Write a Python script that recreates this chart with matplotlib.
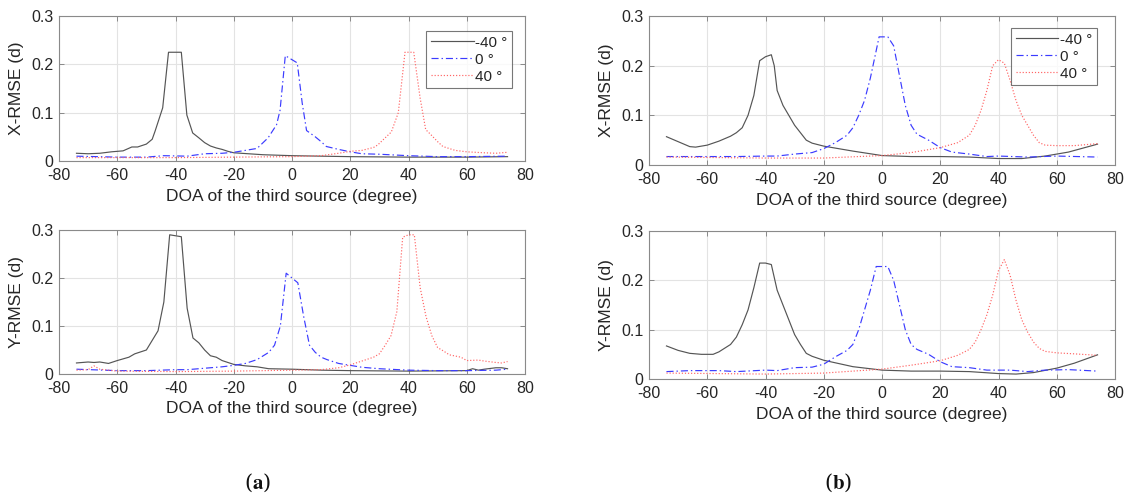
import matplotlib
matplotlib.use("Agg")
import matplotlib.pyplot as plt

plt.rcParams["font.family"] = ["Liberation Sans", "DejaVu Sans"]
plt.rcParams["mathtext.fontset"] = "stix"
plt.rcParams["axes.unicode_minus"] = False

# ---------------- data ----------------
series_labels = ["-40 °", "0 °", "40 °"]
x_ticks = [-80, -60, -40, -20, 0, 20, 40, 60, 80]
y_ticks = [0, 0.1, 0.2, 0.3]
y_tick_labels = ["0", "0.1", "0.2", "0.3"]
x_label = "DOA of the third source (degree)"
panel_tags = ["a", "b"]

# (a) X-RMSE
a_x_m40 = [-74, -70, -66, -62, -58, -55, -53, -50, -48, -47, -44.4, -42.4, -38, -36.1, -34.1, -32, -30, -28, -26, -24, -22, -20, -10, 0, 10, 20, 40, 60, 74]
a_x_m40_y = [0.016, 0.015, 0.016, 0.019, 0.021, 0.029, 0.029, 0.035, 0.045, 0.062, 0.11, 0.225, 0.225, 0.095, 0.058, 0.048, 0.038, 0.031, 0.027, 0.024, 0.020, 0.017, 0.013, 0.011, 0.010, 0.009, 0.008, 0.008, 0.009]
a_x_0 = [-74, -60, -50, -44, -36, -30, -24, -20, -16, -12, -8.2, -5.3, -4.1, -2.3, 1.8, 3.5, 5, 8, 10, 11.8, 16, 20, 24, 30, 40, 50, 60, 74]
a_x_0_y = [0.010, 0.008, 0.008, 0.011, 0.010, 0.015, 0.016, 0.018, 0.022, 0.026, 0.048, 0.075, 0.105, 0.218, 0.203, 0.12, 0.063, 0.05, 0.04, 0.03, 0.024, 0.019, 0.015, 0.014, 0.011, 0.009, 0.009, 0.010]
a_x_40 = [-74, -40, 0, 10, 16, 20, 24, 28, 29.4, 32, 34.1, 36.5, 38.8, 41.8, 44, 45.9, 47.6, 50, 51.8, 56, 60, 66, 70, 74]
a_x_40_y = [0.007, 0.007, 0.009, 0.011, 0.016, 0.020, 0.022, 0.028, 0.033, 0.048, 0.060, 0.100, 0.225, 0.225, 0.130, 0.065, 0.055, 0.040, 0.030, 0.022, 0.019, 0.017, 0.016, 0.018]

# (a) Y-RMSE
a_y_m40 = [-74, -70, -68, -66, -63, -60, -56, -54, -50, -48, -46, -44, -42, -38, -36, -34, -32, -30, -28, -26, -24, -20, -16, -12, -8, 0, 10, 20, 40, 60, 62, 64, 66, 70, 72, 74]
a_y_m40_y = [0.023, 0.025, 0.024, 0.025, 0.022, 0.028, 0.035, 0.042, 0.050, 0.070, 0.090, 0.150, 0.290, 0.286, 0.137, 0.075, 0.065, 0.050, 0.038, 0.035, 0.028, 0.020, 0.017, 0.015, 0.011, 0.010, 0.008, 0.007, 0.006, 0.007, 0.011, 0.008, 0.010, 0.013, 0.013, 0.011]
a_y_0 = [-74, -60, -50, -40, -36, -30, -24, -20, -16, -12, -8, -6, -4, -2, 2, 4, 6, 8, 10, 12, 16, 20, 24, 30, 40, 50, 60, 70, 74]
a_y_0_y = [0.010, 0.007, 0.007, 0.009, 0.009, 0.012, 0.015, 0.018, 0.022, 0.030, 0.045, 0.060, 0.100, 0.210, 0.190, 0.120, 0.060, 0.045, 0.035, 0.030, 0.022, 0.018, 0.014, 0.011, 0.008, 0.007, 0.007, 0.008, 0.010]
a_y_40 = [-74, -70, -68, -66, -60, -40, -20, 0, 10, 16, 20, 24, 28, 30, 32, 34, 36, 38, 40, 42, 44, 46, 48, 50, 52, 54, 58, 60, 64, 66, 70, 72, 74]
a_y_40_y = [0.008, 0.009, 0.017, 0.010, 0.006, 0.005, 0.006, 0.008, 0.009, 0.013, 0.019, 0.027, 0.035, 0.042, 0.060, 0.080, 0.130, 0.285, 0.290, 0.290, 0.180, 0.120, 0.080, 0.055, 0.048, 0.040, 0.035, 0.028, 0.029, 0.027, 0.024, 0.023, 0.026]

# (b) X-RMSE
b_x_m40 = [-74, -70, -66, -64, -60, -56, -52, -50, -48, -46, -44, -42, -40, -38, -37, -36, -34, -32, -30, -28, -26, -24, -20, -10, 0, 10, 20, 30, 40, 48, 56, 64, 74]
b_x_m40_y = [0.057, 0.047, 0.037, 0.036, 0.040, 0.048, 0.058, 0.065, 0.075, 0.100, 0.140, 0.210, 0.218, 0.222, 0.200, 0.150, 0.120, 0.100, 0.080, 0.065, 0.050, 0.044, 0.038, 0.028, 0.019, 0.017, 0.017, 0.016, 0.013, 0.013, 0.018, 0.026, 0.042]
b_x_0 = [-74, -50, -40, -36, -30, -24, -20, -16, -12, -10, -8, -6, -4, -2, -1, 2, 4, 6, 8, 10, 12, 16, 20, 24, 30, 36, 40, 50, 60, 74]
b_x_0_y = [0.017, 0.017, 0.018, 0.018, 0.022, 0.025, 0.033, 0.045, 0.060, 0.075, 0.100, 0.130, 0.175, 0.230, 0.258, 0.258, 0.240, 0.180, 0.120, 0.080, 0.062, 0.050, 0.035, 0.026, 0.022, 0.017, 0.018, 0.016, 0.018, 0.016]
b_x_40 = [-74, -40, -20, 0, 10, 20, 26, 30, 32, 34, 36, 38, 40, 42, 44, 46, 48, 50, 52, 54, 56, 60, 66, 74]
b_x_40_y = [0.016, 0.014, 0.014, 0.019, 0.025, 0.035, 0.045, 0.060, 0.080, 0.110, 0.150, 0.200, 0.212, 0.205, 0.170, 0.130, 0.100, 0.080, 0.060, 0.045, 0.040, 0.039, 0.039, 0.043]

# (b) Y-RMSE
b_y_m40 = [-74, -70, -66, -62, -58, -56, -52, -50, -48, -46, -44, -42, -40, -38, -36, -34, -32, -30, -28, -26, -24, -20, -10, 0, 10, 20, 30, 40, 46, 52, 60, 66, 74]
b_y_m40_y = [0.067, 0.058, 0.052, 0.050, 0.050, 0.055, 0.070, 0.085, 0.110, 0.140, 0.185, 0.235, 0.235, 0.232, 0.180, 0.150, 0.120, 0.090, 0.070, 0.052, 0.046, 0.038, 0.025, 0.018, 0.016, 0.016, 0.015, 0.011, 0.010, 0.013, 0.022, 0.032, 0.049]
b_y_0 = [-74, -66, -56, -50, -40, -36, -30, -24, -20, -16, -12, -10, -8, -6, -4, -2, 2, 4, 6, 8, 10, 12, 16, 20, 24, 30, 36, 44, 50, 56, 64, 74]
b_y_0_y = [0.015, 0.017, 0.017, 0.015, 0.018, 0.017, 0.023, 0.024, 0.030, 0.045, 0.058, 0.070, 0.100, 0.140, 0.180, 0.228, 0.228, 0.200, 0.150, 0.100, 0.070, 0.060, 0.050, 0.035, 0.025, 0.023, 0.018, 0.018, 0.015, 0.018, 0.019, 0.016]
b_y_40 = [-74, -40, -20, 0, 10, 20, 26, 30, 32, 34, 36, 38, 40, 42, 44, 46, 48, 50, 52, 54, 56, 60, 66, 74]
b_y_40_y = [0.012, 0.010, 0.012, 0.020, 0.028, 0.037, 0.048, 0.060, 0.075, 0.100, 0.130, 0.170, 0.220, 0.242, 0.210, 0.160, 0.120, 0.095, 0.075, 0.062, 0.056, 0.053, 0.051, 0.048]

# ---------------- drawing ----------------
styles = [
    dict(color="#555555", linestyle="-", linewidth=0.85),
    dict(color="#3b3bff", linestyle=(0, (6, 2.5, 1.2, 2.5)), linewidth=0.85),
    dict(color="#ff6464", linestyle=(0, (1, 1.6)), linewidth=0.85),
]

W, H = 1126, 497
fig = plt.figure(figsize=(W / 100, H / 100), dpi=100)


def px_axes(left, top, right, bottom):
    return fig.add_axes([left / W, 1 - bottom / H, (right - left) / W, (bottom - top) / H])


panels = [
    (px_axes(59, 16, 525, 161), "X-RMSE (d)",
     [(a_x_m40, a_x_m40_y), (a_x_0, a_x_0_y), (a_x_40, a_x_40_y)], (0.972, 0.897)),
    (px_axes(59, 230, 525, 374), "Y-RMSE (d)",
     [(a_y_m40, a_y_m40_y), (a_y_0, a_y_0_y), (a_y_40, a_y_40_y)], None),
    (px_axes(649, 16, 1115, 165), "X-RMSE (d)",
     [(b_x_m40, b_x_m40_y), (b_x_0, b_x_0_y), (b_x_40, b_x_40_y)], (0.961, 0.919)),
    (px_axes(649, 231, 1115, 379), "Y-RMSE (d)",
     [(b_y_m40, b_y_m40_y), (b_y_0, b_y_0_y), (b_y_40, b_y_40_y)], None),
]

text_color = "#262626"
for ax, ylab, curves, legend_anchor in panels:
    for (xs, ys), st, lab in zip(curves, styles, series_labels):
        ax.plot(xs, ys, label=lab, **st)
    ax.set_xlim(-80, 80)
    ax.set_ylim(0, 0.3)
    ax.set_xticks(x_ticks)
    ax.set_yticks(y_ticks)
    ax.set_yticklabels(y_tick_labels)
    ax.grid(True, color="#e3e3e3", linewidth=0.8)
    ax.set_axisbelow(True)
    ax.tick_params(direction="in", top=True, right=True, length=3.5, width=0.6,
                   color="#7a7a7a", labelsize=11.5, labelcolor=text_color)
    ax.tick_params(axis="x", pad=5)
    ax.tick_params(axis="y", pad=4)
    for sp in ax.spines.values():
        sp.set_color("#8a8a8a")
        sp.set_linewidth(0.8)
    ax.set_xlabel(x_label, fontsize=12.5, color=text_color, labelpad=4)
    ax.set_ylabel(ylab, fontsize=12.5, color=text_color, labelpad=5)
    if legend_anchor is not None:
        leg = ax.legend(loc="upper right", bbox_to_anchor=legend_anchor, borderaxespad=0,
                        fontsize=11, frameon=True, fancybox=False, handlelength=2.8,
                        handletextpad=0.1, labelspacing=0.2, borderpad=0.3)
        leg.get_frame().set_edgecolor("#555555")
        leg.get_frame().set_linewidth(0.8)
        for t in leg.get_texts():
            t.set_color(text_color)

for tag, xc in zip(panel_tags, [258, 838]):
    fig.text(xc / W, 1 - 483 / H, r"($\mathbf{%s}$)" % tag, ha="center", va="center",
             fontsize=15, family="DejaVu Serif", color="#111111")

fig.savefig("out.png", dpi=100)
